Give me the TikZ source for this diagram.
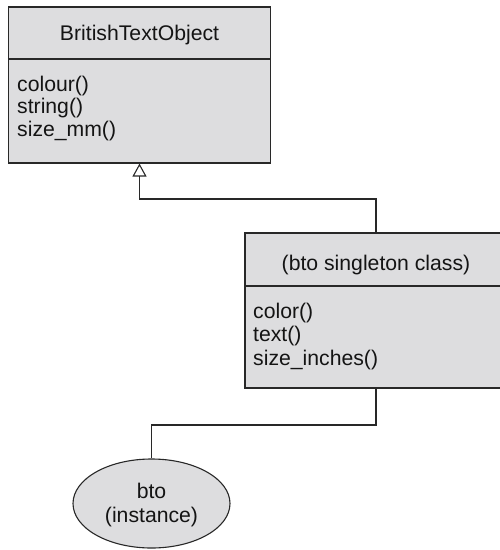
\documentclass[tikz,border=0pt]{standalone}
\usepackage{fontspec}
\setmainfont{Liberation Sans}
\usetikzlibrary{arrows.meta,shapes.geometric}
\definecolor{boxfill}{RGB}{221,221,223}
\definecolor{lineclr}{RGB}{40,40,40}
\definecolor{txtclr}{RGB}{20,20,20}
\begin{document}
\begin{tikzpicture}[x=1pt,y=-1pt,
  classbox/.style={draw=lineclr,fill=boxfill,line width=1.1pt,rectangle,inner sep=0pt,
    minimum width=262pt,minimum height=156pt},
  instbox/.style={draw=lineclr,fill=boxfill,line width=1.1pt,ellipse,inner sep=0pt,
    minimum width=157pt,minimum height=89pt},
  lbl/.style={font=\fontsize{21.2}{23}\selectfont,text=txtclr,inner sep=0pt},
  conn/.style={draw=lineclr,line width=1.1pt},
  inh/.style={conn,-{Triangle[open,width=14pt,length=13pt,line width=1.1pt]}}
]
\clip (0,0) rectangle (500,550);
\fill[white] (0,0) rectangle (500,550);
% class 1
\node[classbox] (c1) at (139.5,85) {};
\draw[conn] (c1.west |- 0,59) -- (c1.east |- 0,59);
\node[lbl,anchor=base] (c1t) at (139.5,40) {BritishTextObject};
\node[lbl,anchor=base west] (c1a) at (17,91) {colour()};
\node[lbl,anchor=base west] (c1b) at (17,113.5) {string()};
\node[lbl,anchor=base west] (c1c) at (17,136) {size\_mm()};
% class 2
\node[classbox,minimum height=155pt] (c2) at (376,310.5) {};
\draw[conn] (c2.west |- 0,286) -- (c2.east |- 0,286);
\node[lbl,anchor=base] (c2t) at (376,270) {(bto singleton class)};
\node[lbl,anchor=base west] (c2a) at (253,318) {color()};
\node[lbl,anchor=base west] (c2b) at (253,341.5) {text()};
\node[lbl,anchor=base west] (c2c) at (253,365) {size\_inches()};
% instance
\node[instbox] (inst) at (151.5,503.5) {};
\node[lbl,anchor=base] (i1) at (151.5,498) {bto};
\node[lbl,anchor=base] (i2) at (151.5,522) {(instance)};
% connectors
\coordinate (j1) at (0,199);
\coordinate (j2) at (0,425);
\draw[inh] (c2.north) |- (c1.south |- j1) -- (c1.south);
\draw[conn] (c2.south) |- (inst.north |- j2) -- (inst.north);
\end{tikzpicture}
\end{document}
